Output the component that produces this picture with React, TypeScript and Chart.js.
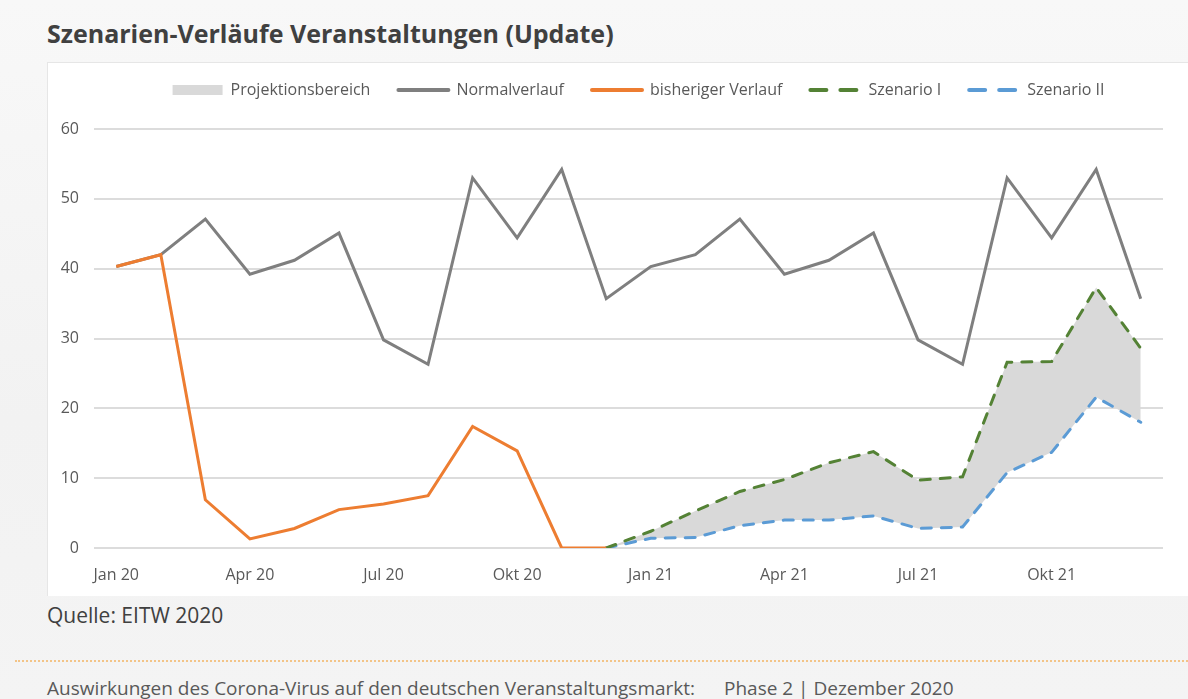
import React, { useEffect, useRef } from "react";
import { Chart, registerables } from "chart.js";

Chart.register(...registerables);

const months = [
  "Jan 20", "Feb 20", "Mrz 20", "Apr 20", "Mai 20", "Jun 20",
  "Jul 20", "Aug 20", "Sep 20", "Okt 20", "Nov 20", "Dez 20",
  "Jan 21", "Feb 21", "Mrz 21", "Apr 21", "Mai 21", "Jun 21",
  "Jul 21", "Aug 21", "Sep 21", "Okt 21", "Nov 21", "Dez 21",
];

const xTickLabels = ["Jan 20", "Apr 20", "Jul 20", "Okt 20", "Jan 21", "Apr 21", "Jul 21", "Okt 21"];

const normalverlauf = [
  40.3, 42.0, 47.1, 39.2, 41.2, 45.1, 29.8, 26.3, 53.0, 44.4, 54.2, 35.7,
  40.3, 42.0, 47.1, 39.2, 41.2, 45.1, 29.8, 26.3, 53.0, 44.4, 54.2, 35.7,
];

const bisherigerVerlauf = [
  40.3, 42.0, 6.9, 1.3, 2.8, 5.5, 6.3, 7.5, 17.4, 13.9, 0, 0,
  null, null, null, null, null, null, null, null, null, null, null, null,
];

const szenarioI = [
  null, null, null, null, null, null, null, null, null, null, null, 0,
  2.4, 5.3, 8.1, 9.8, 12.2, 13.8, 9.7, 10.2, 26.6, 26.7, 37.3, 28.6,
];

const szenarioII = [
  null, null, null, null, null, null, null, null, null, null, null, 0,
  1.4, 1.5, 3.2, 4.0, 4.0, 4.6, 2.8, 3.0, 10.8, 13.7, 21.6, 18.0,
];

const yMin = 0;
const yMax = 60;
const yStep = 10;

const FONT = "'Open Sans', Lato, sans-serif";
const LEGEND_FONT = 16;
const LEGEND_PAD = 28;
const PAD_TOP = 37 - LEGEND_FONT;
const LEGEND_SHIFT_Y = 29 - LEGEND_FONT / 2;
const LEGEND_SHIFT_X = 10;

const legendShift = {
  id: "legendShift",
  afterLayout(chart: any) {
    const l = chart.legend;
    if (!l) return;
    l.top -= LEGEND_SHIFT_Y;
    l.bottom -= LEGEND_SHIFT_Y;
    l.left += LEGEND_SHIFT_X;
    l.right += LEGEND_SHIFT_X;
  },
};

export default function App() {
  const ref = useRef<HTMLCanvasElement>(null);

  useEffect(() => {
    if (!ref.current) return;
    const chart = new Chart(ref.current, {
      type: "line",
      data: {
        labels: months,
        datasets: [
          {
            label: "Projektionsbereich",
            data: szenarioI,
            borderWidth: 0,
            borderColor: "rgba(0,0,0,0)",
            backgroundColor: "#d9d9d9",
            fill: 4,
            pointRadius: 0,
            pointStyle: "rect",
            order: 5,
          },
          {
            label: "Normalverlauf",
            data: normalverlauf,
            borderColor: "#7f7f7f",
            backgroundColor: "#7f7f7f",
            borderWidth: 3,
            fill: false,
            pointRadius: 0,
            pointStyle: "line",
            order: 4,
          },
          {
            label: "bisheriger Verlauf",
            data: bisherigerVerlauf,
            borderColor: "#ed7d31",
            backgroundColor: "#ed7d31",
            borderWidth: 3,
            fill: false,
            pointRadius: 0,
            pointStyle: "line",
            order: 1,
          },
          {
            label: "Szenario I",
            data: szenarioI,
            borderColor: "#548235",
            backgroundColor: "#548235",
            borderWidth: 3,
            borderDash: [10, 10],
            borderCapStyle: "round",
            fill: false,
            pointRadius: 0,
            pointStyle: "line",
            order: 2,
          },
          {
            label: "Szenario II",
            data: szenarioII,
            borderColor: "#5b9bd5",
            backgroundColor: "#5b9bd5",
            borderWidth: 3,
            borderDash: [10, 10],
            borderCapStyle: "round",
            fill: false,
            pointRadius: 0,
            pointStyle: "line",
            order: 3,
          },
        ],
      },
      options: {
        responsive: false,
        animation: false,
        layout: { padding: { top: PAD_TOP, right: 25, left: 0, bottom: 0 } },
        elements: { line: { tension: 0 } },
        plugins: {
          filler: { drawTime: "beforeDatasetsDraw" },
          tooltip: { enabled: false },
          legend: {
            position: "top",
            fullSize: false,
            labels: {
              usePointStyle: true,
              pointStyleWidth: 50,
              boxHeight: 10,
              padding: LEGEND_PAD,
              color: "#595959",
              font: { family: FONT, size: LEGEND_FONT },
              sort: (a: any, b: any) => a.datasetIndex - b.datasetIndex,
              generateLabels: (c: any) => {
                const items = (Chart.defaults.plugins.legend.labels as any).generateLabels(c);
                return items.map((it: any) => {
                  if (it.datasetIndex === 0) {
                    return { ...it, lineWidth: 0, pointStyle: "rect", fillStyle: "#d9d9d9", strokeStyle: "#d9d9d9" };
                  }
                  const ds = c.data.datasets[it.datasetIndex];
                  return {
                    ...it,
                    lineWidth: 4,
                    pointStyle: "line",
                    lineCap: "round",
                    lineDash: ds.borderDash ? [16, 14] : [],
                  };
                });
              },
            },
          },
        },
        scales: {
          x: {
            type: "category",
            offset: true,
            grid: { display: false },
            border: { display: false },
            afterFit: (s: any) => { s.height = 48; },
            ticks: {
              autoSkip: false,
              maxRotation: 0,
              padding: 10,
              color: "#595959",
              font: { family: FONT, size: 16 },
              callback: (_v: any, i: number) => (xTickLabels.includes(months[i]) ? months[i] : ""),
            },
          },
          y: {
            min: yMin,
            max: yMax,
            afterFit: (s: any) => { s.width = 94; },
            border: { display: false },
            grid: { color: "#dcdcdc", lineWidth: 2, drawTicks: false },
            ticks: {
              stepSize: yStep,
              padding: 15,
              color: "#595959",
              font: { family: FONT, size: 16 },
            },
          },
        },
      },
      plugins: [legendShift],
    } as any);
    return () => chart.destroy();
  }, []);

  return (
    <div
      style={{
        position: "fixed",
        left: 0,
        top: 0,
        width: 1188,
        height: 699,
        overflow: "hidden",
        background: "linear-gradient(180deg, #f8f8f8 0%, #f2f2f2 60%, #f4f4f4 100%)",
        fontFamily: FONT,
      }}
    >
      <div
        style={{
          position: "absolute",
          left: 47,
          top: 16,
          fontSize: 25,
          lineHeight: "34px",
          fontWeight: 700,
          color: "#404040",
          whiteSpace: "nowrap",
        }}
      >
        Szenarien-Verläufe Veranstaltungen (Update)
      </div>
      <div
        style={{
          position: "absolute",
          left: 47,
          top: 62,
          width: 1160,
          height: 534,
          background: "#ffffff",
          borderTop: "1px solid #e6e6e6",
          borderLeft: "1px solid #e6e6e6",
          boxSizing: "border-box",
        }}
      />
      <div style={{ position: "absolute", left: 0, top: 54, width: 1188, height: 542 }}>
        <canvas ref={ref} width={1188} height={542} style={{ display: "block" }} />
      </div>
      <div
        style={{
          position: "absolute",
          left: 47,
          top: 601,
          fontSize: 21,
          lineHeight: "28px",
          color: "#404040",
          whiteSpace: "nowrap",
        }}
      >
        Quelle: EITW 2020
      </div>
      <div
        style={{
          position: "absolute",
          left: 15,
          top: 660,
          width: 1173,
          height: 0,
          borderTop: "2px dotted #f3c487",
        }}
      />
      <div
        style={{
          position: "absolute",
          left: 47,
          top: 676,
          fontSize: 19,
          lineHeight: "24px",
          color: "#595959",
          whiteSpace: "nowrap",
        }}
      >
        Auswirkungen des Corona-Virus auf den deutschen Veranstaltungsmarkt:
      </div>
      <div
        style={{
          position: "absolute",
          left: 724,
          top: 676,
          fontSize: 19,
          lineHeight: "24px",
          color: "#595959",
          whiteSpace: "nowrap",
        }}
      >
        Phase 2 | Dezember 2020
      </div>
    </div>
  );
}
